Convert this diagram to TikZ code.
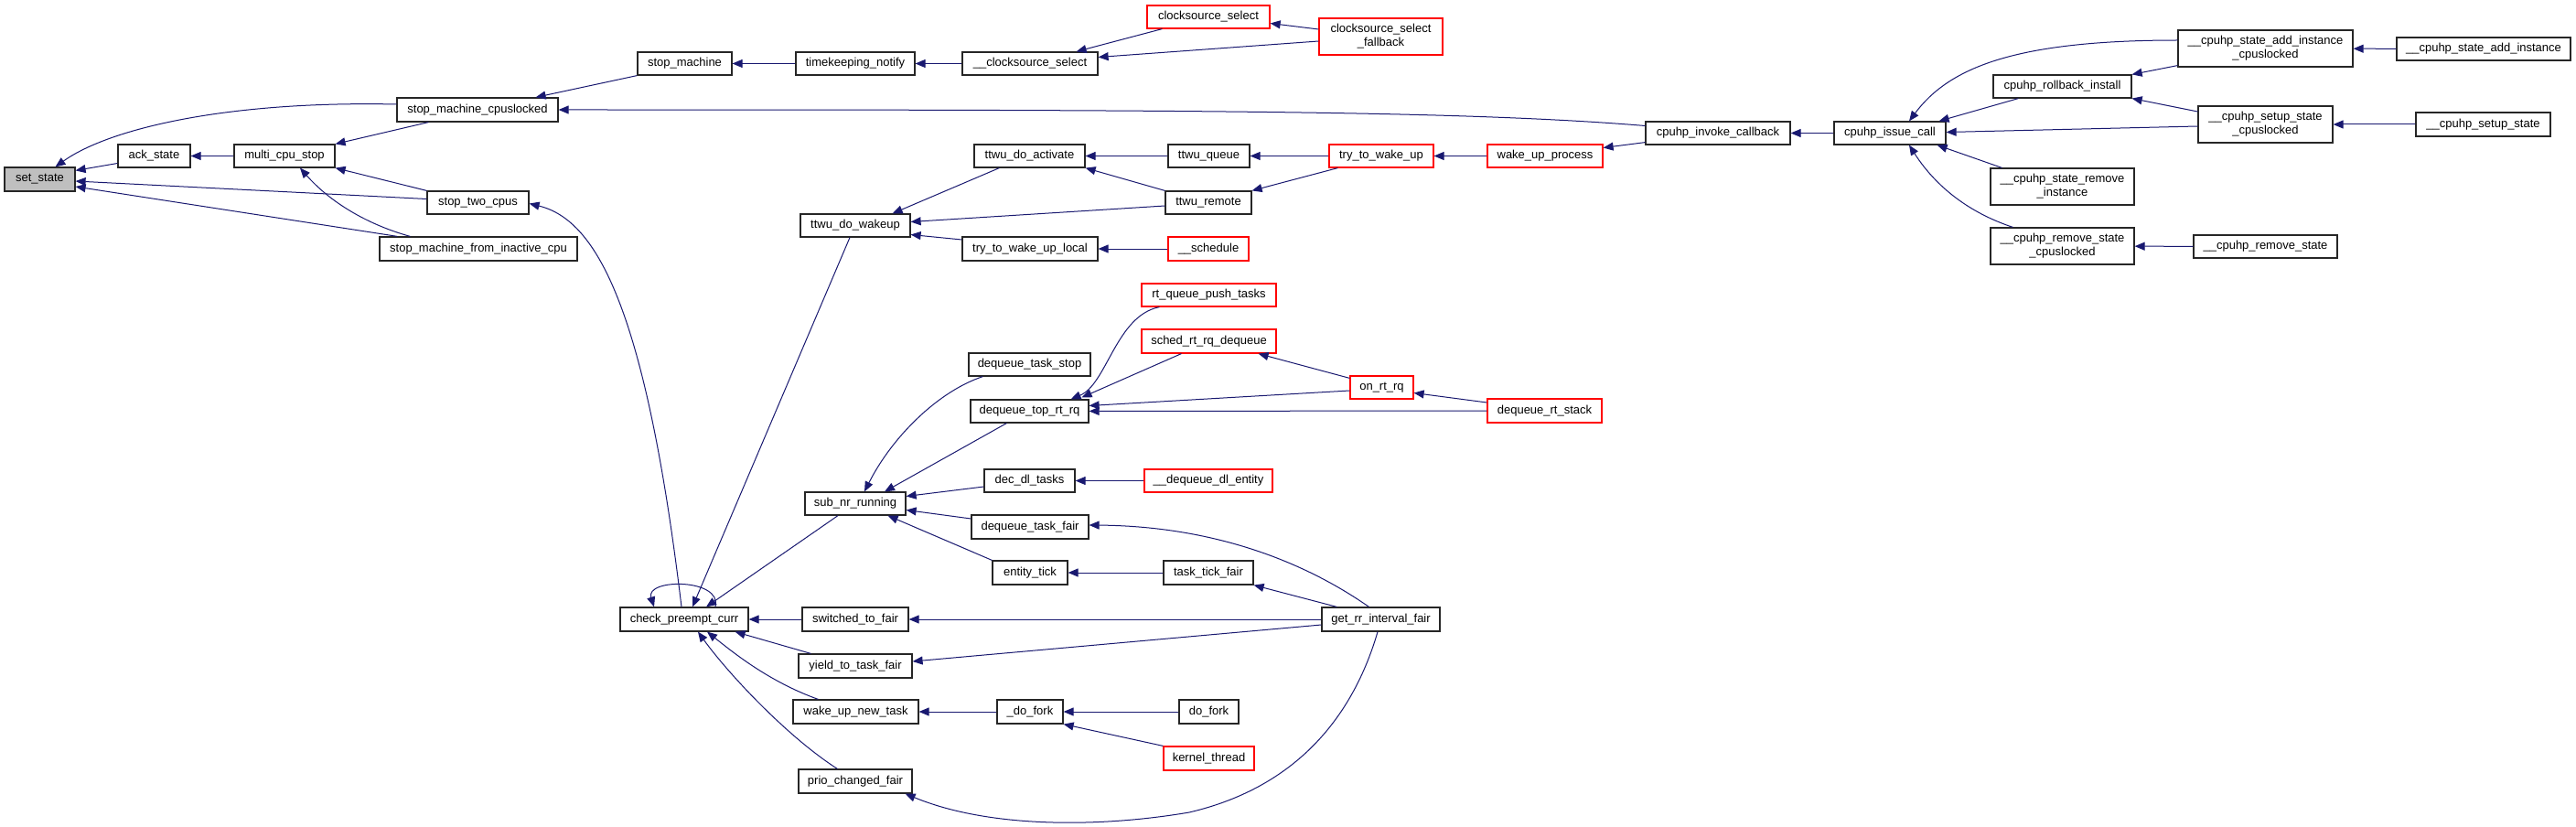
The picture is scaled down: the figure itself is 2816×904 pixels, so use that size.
\documentclass[tikz,border=0pt]{standalone}
\usepackage{fontspec}
\setmainfont{Liberation Sans}
\usetikzlibrary{arrows.meta,calc}
\definecolor{edgeblue}{HTML}{191970}
\definecolor{nodegray}{HTML}{BFBFBF}
\definecolor{trunc}{HTML}{FF0000}
\tikzset{
 fnbox/.style={draw=black!85, line width=1.2pt, fill=white, inner sep=0pt, align=center, font=\fontsize{13}{15}\selectfont},
 truncated/.style={draw=trunc},
 current/.style={fill=nodegray},
 calledge/.style={draw=edgeblue, line width=1pt, {Triangle[length=11pt,width=9pt]}-},
}
\newcommand{\fn}[7][]{\node[fnbox,#1,minimum width={(#5)-(#3)},minimum height={(#6)-(#4)}] (#2) at ({((#3)+(#5))/2},{((#4)+(#6))/2}) {#7};}
\begin{document}
\begin{tikzpicture}[x=1pt,y=-1pt]
\useasboundingbox[fill=white] (0,0) rectangle (2816,904);
% nodes
\fn[current]{setstate}{5}{183}{82}{209}{set\_state}
\fn{ackstate}{129}{158}{208}{183}{ack\_state}
\fn{multicpu}{256}{158}{366}{183}{multi\_cpu\_stop}
\fn{smcl}{434}{107}{610}{133}{stop\_machine\_cpuslocked}
\fn{twocpus}{467}{209}{578}{234}{stop\_two\_cpus}
\fn{smfic}{415}{259}{631}{285}{stop\_machine\_from\_inactive\_cpu}
\fn{stopmachine}{697}{57}{800}{82}{stop\_machine}
\fn{tknotify}{870}{57}{1000}{82}{timekeeping\_notify}
\fn{ucsselect}{1052}{57}{1200}{82}{\_\_clocksource\_select}
\fn[truncated]{csselect}{1254}{6}{1388}{31}{clocksource\_select}
\fn[truncated]{csfallback}{1442}{20}{1577}{60}{clocksource\_select\\\_fallback}
\fn{invokecb}{1799}{133}{1957}{158}{cpuhp\_invoke\_callback}
\fn{issuecall}{2005}{133}{2127}{158}{cpuhp\_issue\_call}
\fn{activate}{1065}{158}{1186}{183}{ttwu\_do\_activate}
\fn{dowakeup}{875}{234}{995}{259}{ttwu\_do\_wakeup}
\fn{wakeuplocal}{1052}{259}{1200}{285}{try\_to\_wake\_up\_local}
\fn{ttwuqueue}{1277}{158}{1366}{183}{ttwu\_queue}
\fn[truncated]{trywakeup}{1453}{158}{1567}{183}{try\_to\_wake\_up}
\fn[truncated]{wakeupproc}{1626}{158}{1752}{183}{wake\_up\_process}
\fn{ttwuremote}{1274}{209}{1368}{234}{ttwu\_remote}
\fn[truncated]{schedule}{1277}{259}{1365}{285}{\_\_schedule}
\fn{addinstcl}{2381}{33}{2572}{73}{\_\_cpuhp\_state\_add\_instance\\\_cpuslocked}
\fn{addinst}{2620}{41}{2810}{66}{\_\_cpuhp\_state\_add\_instance}
\fn{rollback}{2179}{82}{2330}{107}{cpuhp\_rollback\_install}
\fn{setupcl}{2403}{116}{2550}{156}{\_\_cpuhp\_setup\_state\\\_cpuslocked}
\fn{setup}{2641}{123}{2788}{149}{\_\_cpuhp\_setup\_state}
\fn{removeinst}{2176}{184}{2333}{224}{\_\_cpuhp\_state\_remove\\\_instance}
\fn{removecl}{2176}{249}{2333}{289}{\_\_cpuhp\_remove\_state\\\_cpuslocked}
\fn{removestate}{2398}{257}{2555}{282}{\_\_cpuhp\_remove\_state}
\fn[truncated]{pushtasks}{1248}{310}{1395}{335}{rt\_queue\_push\_tasks}
\fn[truncated]{rqdequeue}{1248}{360}{1395}{386}{sched\_rt\_rq\_dequeue}
\fn{dtstop}{1059}{386}{1192}{411}{dequeue\_task\_stop}
\fn[truncated]{onrtrq}{1476}{411}{1545}{436}{on\_rt\_rq}
\fn{toprtrq}{1061}{437}{1190}{462}{dequeue\_top\_rt\_rq}
\fn[truncated]{rtstack}{1626}{436}{1751}{462}{dequeue\_rt\_stack}
\fn{decdl}{1076}{513}{1175}{538}{dec\_dl\_tasks}
\fn[truncated]{dequeuedl}{1251}{513}{1391}{538}{\_\_dequeue\_dl\_entity}
\fn{subnr}{880}{538}{990}{563}{sub\_nr\_running}
\fn{dtfair}{1062}{563}{1190}{589}{dequeue\_task\_fair}
\fn{entitytick}{1085}{613}{1167}{639}{entity\_tick}
\fn{tasktick}{1272}{613}{1370}{639}{task\_tick\_fair}
\fn{cpc}{678}{664}{818}{690}{check\_preempt\_curr}
\fn{switchedfair}{877}{664}{993}{690}{switched\_to\_fair}
\fn{getrr}{1445}{664}{1574}{690}{get\_rr\_interval\_fair}
\fn{yieldfair}{873}{715}{997}{741}{yield\_to\_task\_fair}
\fn{wakenew}{867}{765}{1004}{791}{wake\_up\_new\_task}
\fn{udofork}{1090}{765}{1162}{791}{\_do\_fork}
\fn{dofork}{1289}{765}{1354}{791}{do\_fork}
\fn[truncated]{kthread}{1272}{816}{1371}{842}{kernel\_thread}
\fn{priofair}{873}{841}{997}{867}{prio\_changed\_fair}
% edges
\draw[calledge] ($(setstate.north east)+(0,4)$) -- ($(ackstate.west)+(0,8)$);
\draw[calledge] ($(setstate.east)+(0,2)$) -- ($(twocpus.west)+(0,-4)$);
\draw[calledge] ($(setstate.east)+(0,8)$) -- ($(smfic.north west)+(20,0)$);
\draw[calledge] ($(setstate.north)+(17,0)$) .. controls (120,140) and (250,110) .. ($(smcl.west)+(0,-6)$);
\draw[calledge] (ackstate) -- (multicpu);
\draw[calledge] (multicpu.north east) -- ($(smcl.south west)+(35,0)$);
\draw[calledge] (multicpu.south east) -- (twocpus.north west);
\draw[calledge] ($(multicpu.south)+(17,0)$) .. controls (360,220) and (400,245) .. ($(smfic.north west)+(34,0)$);
\draw[calledge] ($(smcl.north east)+(-25,0)$) -- (stopmachine.south west);
\draw[calledge] (smcl.east) .. controls (1300,120) and (1600,121) .. ($(invokecb.west)+(0,-8)$);
\draw[calledge] (stopmachine) -- (tknotify);
\draw[calledge] (tknotify) -- (ucsselect);
\draw[calledge] ($(ucsselect.north east)+(-24,0)$) -- ($(csselect.south west)+(17,0)$);
\draw[calledge] ($(ucsselect.east)+(0,-7)$) -- ($(csfallback.west)+(0,5)$);
\draw[calledge] ($(csselect.east)+(0,7)$) -- ($(csfallback.west)+(0,-8)$);
\draw[calledge] ($(twocpus.east)+(0,1)$) .. controls (650,240) and (705,330) .. ($(cpc.north)+(-3,0)$);
\draw[calledge] ($(cpc.north)+(9,0)$) -- ($(dowakeup.south)+(-6,0)$);
\draw[calledge] ($(cpc.north)+(24,0)$) -- ($(subnr.south)+(-19,0)$);
\draw[calledge] ($(cpc.north)+(-33,0)$) .. controls (705,632) and (790,632) .. ($(cpc.north)+(34,0)$);
\draw[calledge] ($(dowakeup.north east)+(-20,0)$) -- ($(activate.south west)+(28,0)$);
\draw[calledge] ($(dowakeup.east)+(0,-4)$) -- ($(ttwuremote.west)+(0,3.5)$);
\draw[calledge] ($(dowakeup.east)+(0,10)$) -- ($(wakeuplocal.west)+(0,-10)$);
\draw[calledge] (activate) -- (ttwuqueue);
\draw[calledge] (activate.south east) -- (ttwuremote.north west);
\draw[calledge] (ttwuqueue) -- (trywakeup);
\draw[calledge] (ttwuremote.north east) -- ($(trywakeup.south west)+(10,0)$);
\draw[calledge] (trywakeup) -- (wakeupproc);
\draw[calledge] ($(wakeupproc.east)+(0,-9)$) -- ($(invokecb.south west)+(0,-3)$);
\draw[calledge] (wakeuplocal) -- (schedule);
\draw[calledge] (invokecb) -- (issuecall);
\draw[calledge] ($(issuecall.north)+(21,0)$) .. controls (2130,75) and (2200,44) .. ($(addinstcl.west)+(0,-9)$);
\draw[calledge] ($(issuecall.north east)+(-8,0)$) -- ($(rollback.south west)+(28,0)$);
\draw[calledge] ($(issuecall.east)+(0,-1)$) -- ($(setupcl.west)+(0,2)$);
\draw[calledge] ($(issuecall.south east)+(-10,0)$) -- ($(removeinst.north west)+(13,0)$);
\draw[calledge] ($(issuecall.south)+(21,0)$) .. controls (2120,210) and (2160,235) .. ($(removecl.north west)+(25,0)$);
\draw[calledge] (rollback.north east) -- ($(addinstcl.south west)+(0,-2)$);
\draw[calledge] (rollback.south east) -- ($(setupcl.west)+(0,-14)$);
\draw[calledge] (addinstcl) -- (addinst);
\draw[calledge] (setupcl) -- (setup);
\draw[calledge] (removecl) -- (removestate);
\draw[calledge] ($(subnr.north)+(10,0)$) .. controls (975,478) and (1025,428) .. ($(dtstop.south west)+(16,0)$);
\draw[calledge] ($(subnr.north)+(32,0)$) -- ($(toprtrq.south west)+(40,0)$);
\draw[calledge] ($(subnr.east)+(0,-8)$) -- ($(decdl.west)+(0,6.5)$);
\draw[calledge] ($(subnr.east)+(0,7)$) -- ($(dtfair.west)+(0,-9)$);
\draw[calledge] ($(subnr.south east)+(-20,0)$) -- (entitytick.north west);
\draw[calledge] ($(toprtrq.north east)+(-20,0)$) .. controls (1210,420) and (1220,345) .. ($(pushtasks.south west)+(20,0)$);
\draw[calledge] ($(toprtrq.north east)+(-8,-2)$) -- ($(rqdequeue.south west)+(44,0)$);
\draw[calledge] ($(toprtrq.east)+(0,-6)$) -- ($(onrtrq.west)+(0,3.5)$);
\draw[calledge] (toprtrq) -- (rtstack);
\draw[calledge] ($(rqdequeue.south east)+(-20,0)$) -- ($(onrtrq.north west)+(0,3)$);
\draw[calledge] ($(onrtrq.east)+(0,6)$) -- ($(rtstack.west)+(0,-9)$);
\draw[calledge] (decdl) -- (dequeuedl);
\draw[calledge] ($(dtfair.east)+(0,-2)$) .. controls (1320,575) and (1420,610) .. ($(getrr.north)+(-13,0)$);
\draw[calledge] (entitytick) -- (tasktick);
\draw[calledge] (tasktick.south east) -- ($(getrr.north west)+(17,0)$);
\draw[calledge] (cpc) -- (switchedfair);
\draw[calledge] (switchedfair) -- (getrr);
\draw[calledge] ($(yieldfair.east)+(0,-5)$) -- ($(getrr.west)+(0,6)$);
\draw[calledge] ($(priofair.south east)+(-8,0)$) .. controls (1080,905) and (1200,905) .. (1300,888) .. controls (1420,860) and (1480,780) .. ($(getrr.south)+(-3.5,0)$);
\draw[calledge] (wakenew) -- (udofork);
\draw[calledge] (udofork) -- (dofork);
\draw[calledge] (udofork.south east) -- (kthread.north west);
\draw[calledge] ($(cpc.south east)+(-15,0)$) -- ($(yieldfair.north west)+(14,0)$);
\draw[calledge] ($(cpc.south)+(25,0)$) .. controls (800,712) and (840,745) .. ($(wakenew.north west)+(28,0)$);
\draw[calledge] ($(cpc.south)+(15,0)$) .. controls (795,735) and (860,805) .. ($(priofair.north west)+(43,0)$);
\end{tikzpicture}
\end{document}
